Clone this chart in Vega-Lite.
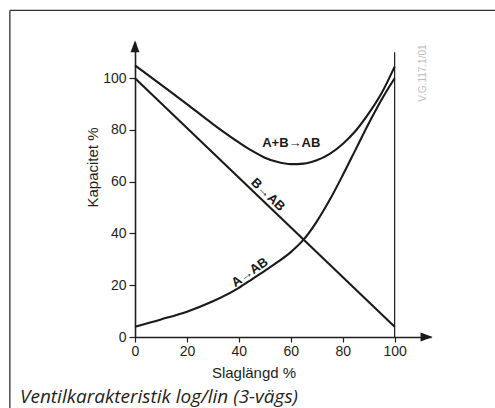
{
  "$schema": "https://vega.github.io/schema/vega-lite/v6.json",
  "width": 296,
  "height": 295,
  "autosize": "none",
  "padding": {"left": 135, "top": 42, "right": 64, "bottom": 71},
  "background": "white",
  "config": {"view": {"stroke": null}},
  "datasets": {
    "curves": [
      {"series": "B→AB", "slag": 0, "kap": 100},
      {"series": "B→AB", "slag": 100, "kap": 4},
      {"series": "A→AB", "slag": 0, "kap": 4},
      {"series": "A→AB", "slag": 10, "kap": 6.8},
      {"series": "A→AB", "slag": 20, "kap": 9.8},
      {"series": "A→AB", "slag": 30, "kap": 13.8},
      {"series": "A→AB", "slag": 40, "kap": 19},
      {"series": "A→AB", "slag": 45, "kap": 22.3},
      {"series": "A→AB", "slag": 50, "kap": 25.6},
      {"series": "A→AB", "slag": 55, "kap": 29},
      {"series": "A→AB", "slag": 60, "kap": 32.8},
      {"series": "A→AB", "slag": 65, "kap": 37.7},
      {"series": "A→AB", "slag": 70, "kap": 44.6},
      {"series": "A→AB", "slag": 75, "kap": 53},
      {"series": "A→AB", "slag": 80, "kap": 62.5},
      {"series": "A→AB", "slag": 85, "kap": 72.5},
      {"series": "A→AB", "slag": 90, "kap": 82.5},
      {"series": "A→AB", "slag": 95, "kap": 91.8},
      {"series": "A→AB", "slag": 100, "kap": 100},
      {"series": "A+B→AB", "slag": 0, "kap": 105},
      {"series": "A+B→AB", "slag": 10, "kap": 97.5},
      {"series": "A+B→AB", "slag": 20, "kap": 90},
      {"series": "A+B→AB", "slag": 30, "kap": 82.3},
      {"series": "A+B→AB", "slag": 40, "kap": 75.2},
      {"series": "A+B→AB", "slag": 45, "kap": 72},
      {"series": "A+B→AB", "slag": 50, "kap": 69.3},
      {"series": "A+B→AB", "slag": 55, "kap": 67.6},
      {"series": "A+B→AB", "slag": 60, "kap": 66.8},
      {"series": "A+B→AB", "slag": 65, "kap": 67},
      {"series": "A+B→AB", "slag": 70, "kap": 68.3},
      {"series": "A+B→AB", "slag": 75, "kap": 70.8},
      {"series": "A+B→AB", "slag": 80, "kap": 74.6},
      {"series": "A+B→AB", "slag": 85, "kap": 79.7},
      {"series": "A+B→AB", "slag": 90, "kap": 86.4},
      {"series": "A+B→AB", "slag": 95, "kap": 94.3},
      {"series": "A+B→AB", "slag": 100, "kap": 104.5}
    ]
  },
  "layer": [
    {
      "data": {"name": "curves"},
      "mark": {"type": "line", "interpolate": "monotone", "stroke": "#1a1a1a", "strokeWidth": 2.1, "clip": false},
      "encoding": {
        "x": {
          "field": "slag", "type": "quantitative",
          "scale": {"domain": [0, 114], "nice": false, "zero": false},
          "axis": {
            "values": [0, 10, 20, 30, 40, 50, 60, 70, 80, 90, 100],
            "labelExpr": "datum.value % 20 == 0 ? datum.label : ''",
            "grid": false,
            "domainColor": "#231f20", "domainWidth": 1.6,
            "tickColor": "#231f20", "tickWidth": 1.2, "tickSize": 5,
            "labelFont": "Liberation Sans", "labelFontSize": 14, "labelColor": "#231f20",
            "labelPadding": 2, "labelFlush": false, "labelOverlap": false,
            "title": "Slaglängd %",
            "titleFont": "Liberation Sans", "titleFontSize": 15, "titleFontWeight": "normal", "titleColor": "#231f20",
            "titleX": 118.5, "titleY": 35, "titleAlign": "center", "titleBaseline": "middle", "titleAnchor": null
          }
        },
        "y": {
          "field": "kap", "type": "quantitative",
          "scale": {"domain": [0, 114], "nice": false, "zero": false},
          "axis": {
            "values": [0, 10, 20, 30, 40, 50, 60, 70, 80, 90, 100],
            "labelExpr": "datum.value % 20 == 0 ? datum.label : ''",
            "grid": false,
            "domainColor": "#231f20", "domainWidth": 1.6,
            "tickColor": "#231f20", "tickWidth": 1.2, "tickSize": 6,
            "labelFont": "Liberation Sans", "labelFontSize": 14, "labelColor": "#231f20",
            "labelPadding": 3, "labelFlush": false, "labelOverlap": false,
            "title": "Kapacitet %",
            "titleFont": "Liberation Sans", "titleFontSize": 15, "titleFontWeight": "normal", "titleColor": "#231f20",
            "titleX": -43, "titleY": 125, "titleAngle": -90, "titleAlign": "center", "titleBaseline": "middle", "titleAnchor": null
          }
        },
        "detail": {"field": "series", "type": "nominal"}
      }
    },
    {
      "data": {"values": [{"slag": 100, "kap": 0, "kap2": 110}]},
      "mark": {"type": "rule", "stroke": "#1a1a1a", "strokeWidth": 1.2, "clip": false},
      "encoding": {
        "x": {"field": "slag", "type": "quantitative"},
        "y": {"field": "kap", "type": "quantitative"},
        "y2": {"field": "kap2"}
      }
    },
    {
      "data": {"values": [{"slag": -48.2, "slag2": 140, "kap": 126.2}]},
      "mark": {"type": "rule", "stroke": "#333333", "strokeWidth": 1.3, "clip": false},
      "encoding": {
        "x": {"field": "slag", "type": "quantitative"},
        "x2": {"field": "slag2"},
        "y": {"field": "kap", "type": "quantitative"}
      }
    },
    {
      "data": {"values": [{"slag": -48.2, "kap": 126.2, "kap2": -30}]},
      "mark": {"type": "rule", "stroke": "#333333", "strokeWidth": 1.3, "clip": false},
      "encoding": {
        "x": {"field": "slag", "type": "quantitative"},
        "y": {"field": "kap", "type": "quantitative"},
        "y2": {"field": "kap2"}
      }
    },
    {
      "data": {"values": [{"slag": 0, "kap": 112.4}]},
      "mark": {"type": "point", "shape": "M-0.75,1L0,-1L0.75,1Z", "size": 144, "filled": true, "color": "#1a1a1a", "opacity": 1, "clip": false},
      "encoding": {
        "x": {"field": "slag", "type": "quantitative"},
        "y": {"field": "kap", "type": "quantitative"}
      }
    },
    {
      "data": {"values": [{"slag": 112.3, "kap": 0}]},
      "mark": {"type": "point", "shape": "M-1,-0.75L1,0L-1,0.75Z", "size": 144, "filled": true, "color": "#1a1a1a", "opacity": 1, "clip": false},
      "encoding": {
        "x": {"field": "slag", "type": "quantitative"},
        "y": {"field": "kap", "type": "quantitative"}
      }
    },
    {
      "data": {"values": [{"label": "A+B→AB", "slag": 60.2, "kap": 74.9}]},
      "mark": {"type": "text", "font": "Liberation Sans", "fontWeight": "bold", "fontSize": 13, "color": "#1a1a1a", "align": "center", "baseline": "middle", "clip": false},
      "encoding": {
        "x": {"field": "slag", "type": "quantitative"},
        "y": {"field": "kap", "type": "quantitative"},
        "text": {"field": "label"}
      }
    },
    {
      "data": {"values": [{"label": "B→AB", "slag": 51.2, "kap": 55.0}]},
      "mark": {"type": "text", "font": "Liberation Sans", "fontWeight": "bold", "fontSize": 13, "color": "#1a1a1a", "align": "center", "baseline": "middle", "angle": 44, "clip": false},
      "encoding": {
        "x": {"field": "slag", "type": "quantitative"},
        "y": {"field": "kap", "type": "quantitative"},
        "text": {"field": "label"}
      }
    },
    {
      "data": {"values": [{"label": "A→AB", "slag": 44.2, "kap": 25.0}]},
      "mark": {"type": "text", "font": "Liberation Sans", "fontWeight": "bold", "fontSize": 13, "color": "#1a1a1a", "align": "center", "baseline": "middle", "angle": -35, "clip": false},
      "encoding": {
        "x": {"field": "slag", "type": "quantitative"},
        "y": {"field": "kap", "type": "quantitative"},
        "text": {"field": "label"}
      }
    },
    {
      "data": {"values": [{"label": "V.G.117.1/01", "slag": 110.9, "kap": 102}]},
      "mark": {"type": "text", "font": "Liberation Sans", "fontSize": 10, "color": "#bbbbbb", "align": "center", "baseline": "middle", "angle": -90, "clip": false},
      "encoding": {
        "x": {"field": "slag", "type": "quantitative"},
        "y": {"field": "kap", "type": "quantitative"},
        "text": {"field": "label"}
      }
    },
    {
      "data": {"values": [{"label": "Ventilkarakteristik log/lin (3-vägs)", "slag": -44.3, "kap": -23.2}]},
      "mark": {"type": "text", "font": "Open Sans", "fontStyle": "italic", "fontSize": 19, "color": "#231f20", "align": "left", "baseline": "middle", "clip": false},
      "encoding": {
        "x": {"field": "slag", "type": "quantitative"},
        "y": {"field": "kap", "type": "quantitative"},
        "text": {"field": "label"}
      }
    }
  ]
}
